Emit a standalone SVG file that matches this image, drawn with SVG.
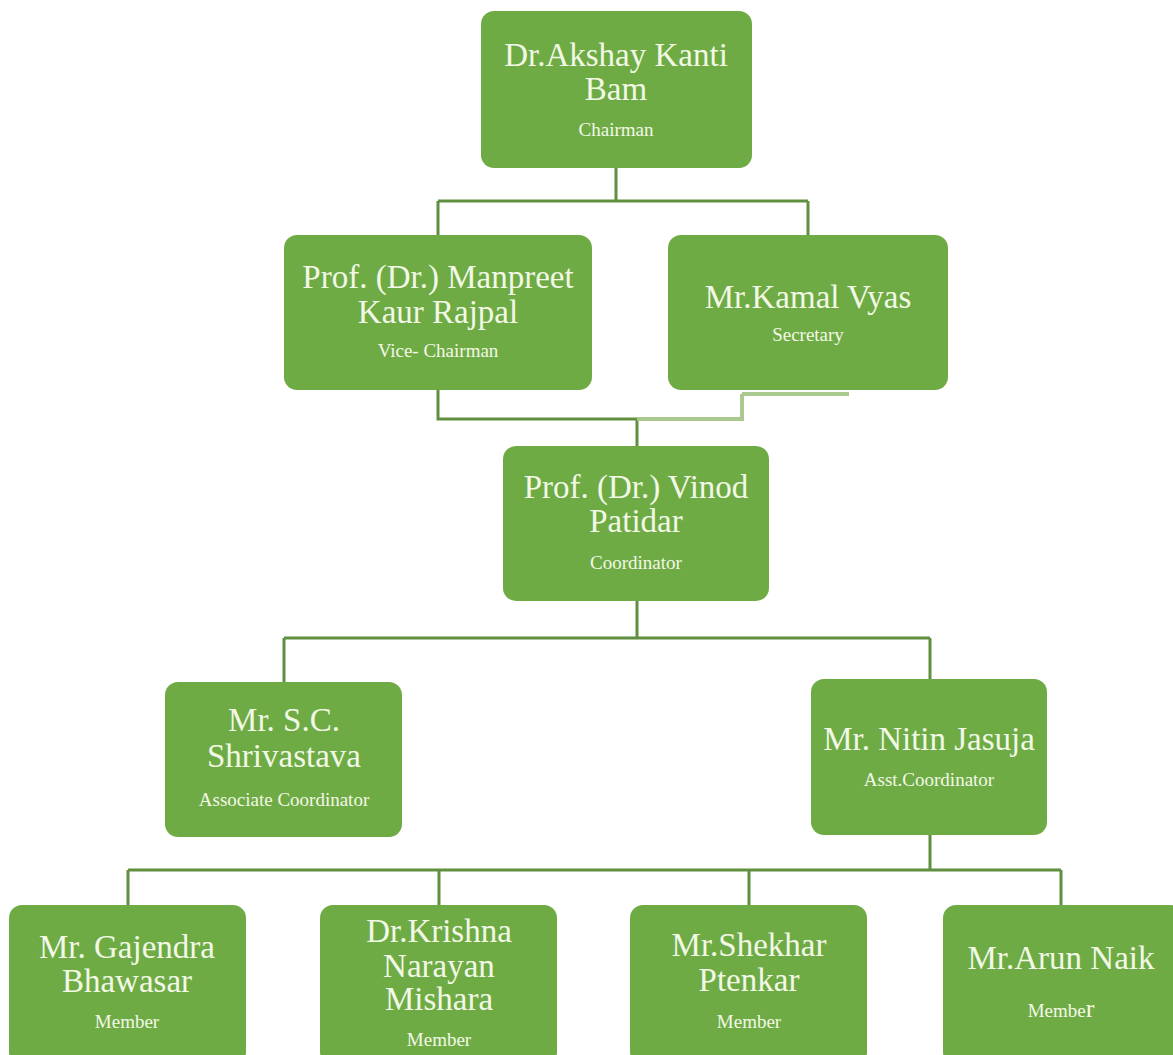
<svg xmlns="http://www.w3.org/2000/svg" width="1173" height="1055" viewBox="0 0 1173 1055">
<style>
.box{fill:#6fab45;}
.t{font-family:"Liberation Serif","Times New Roman",serif;fill:#f2f8e6;text-anchor:middle;}
.big{font-size:33px;}
.sm{font-size:19px;}
.ln{stroke:#5f8f3f;stroke-width:3;fill:none;}
.lt{stroke:#a9c98f;stroke-width:4;fill:none;}
</style>
<rect width="1173" height="1055" fill="#ffffff"/>
<g id="connectors">
<path class="ln" d="M616 167V201M438 201H808M438 201V235M808 201V235"/>
<path class="ln" d="M438 390V419H637M637 419V446"/>
<path class="lt" d="M742 394H849M742 394V419H637"/>
<path class="ln" d="M637 601V638M284 638H930M284 638V682M930 638V679"/>
<path class="ln" d="M930 835V870M128 870H1061M128 870V905M439 870V905M749 870V905M1061 870V905"/>
</g>
<g id="chairman">
<rect class="box" x="481" y="11" width="271" height="157" rx="13"/>
<text class="t big" x="616" y="66">Dr.Akshay Kanti</text>
<text class="t big" x="616" y="100">Bam</text>
<text class="t sm" x="616" y="136">Chairman</text>
</g>
<g id="vice-chairman">
<rect class="box" x="284" y="235" width="308" height="155" rx="13"/>
<text class="t big" x="438" y="288">Prof. (Dr.) Manpreet</text>
<text class="t big" x="438" y="323">Kaur Rajpal</text>
<text class="t sm" x="438" y="357">Vice- Chairman</text>
</g>
<g id="secretary">
<rect class="box" x="668" y="235" width="280" height="155" rx="13"/>
<text class="t big" x="808" y="308">Mr.Kamal Vyas</text>
<text class="t sm" x="808" y="341">Secretary</text>
</g>
<g id="coordinator">
<rect class="box" x="503" y="446" width="266" height="155" rx="13"/>
<text class="t big" x="636" y="498">Prof. (Dr.) Vinod</text>
<text class="t big" x="636" y="532">Patidar</text>
<text class="t sm" x="636" y="569">Coordinator</text>
</g>
<g id="associate-coordinator">
<rect class="box" x="165" y="682" width="237" height="155" rx="13"/>
<text class="t big" x="284" y="731">Mr. S.C.</text>
<text class="t big" x="284" y="767">Shrivastava</text>
<text class="t sm" x="284" y="806">Associate Coordinator</text>
</g>
<g id="asst-coordinator">
<rect class="box" x="811" y="679" width="236" height="156" rx="13"/>
<text class="t big" x="929" y="750">Mr. Nitin Jasuja</text>
<text class="t sm" x="929" y="786">Asst.Coordinator</text>
</g>
<g id="member-1">
<rect class="box" x="9" y="905" width="237" height="160" rx="13"/>
<text class="t big" x="127" y="958">Mr. Gajendra</text>
<text class="t big" x="127" y="992">Bhawasar</text>
<text class="t sm" x="127" y="1028">Member</text>
</g>
<g id="member-2">
<rect class="box" x="320" y="905" width="237" height="160" rx="13"/>
<text class="t big" x="439" y="942">Dr.Krishna</text>
<text class="t big" x="439" y="977">Narayan</text>
<text class="t big" x="439" y="1010">Mishara</text>
<text class="t sm" x="439" y="1046">Member</text>
</g>
<g id="member-3">
<rect class="box" x="630" y="905" width="237" height="160" rx="13"/>
<text class="t big" x="749" y="956">Mr.Shekhar</text>
<text class="t big" x="749" y="991">Ptenkar</text>
<text class="t sm" x="749" y="1028">Member</text>
</g>
<g id="member-4">
<rect class="box" x="943" y="905" width="240" height="160" rx="13"/>
<text class="t big" x="1061" y="969">Mr.Arun Naik</text>
<text class="t sm" x="1061" y="1017">Membe<tspan font-size="26">r</tspan></text>
</g>
</svg>
